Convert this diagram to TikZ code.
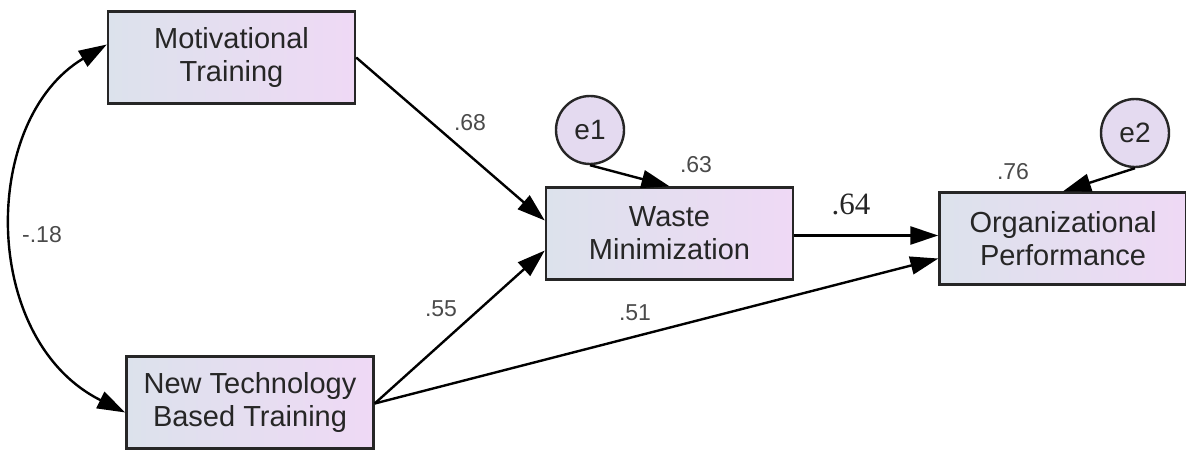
\documentclass[tikz,border=0pt]{standalone}
\usepackage{fontspec}
\setmainfont{Liberation Sans}
\newfontfamily\serifnum{Liberation Serif}
\usetikzlibrary{arrows.meta}
\definecolor{boxleft}{HTML}{DCE2EC}
\definecolor{boxright}{HTML}{EFD9F5}
\definecolor{errfill}{HTML}{E4DAF0}
\definecolor{labgray}{HTML}{4A4A4A}
\tikzset{
  varbox/.style={draw=black!85, line width=2.4pt, rectangle, left color=boxleft, right color=boxright,
    minimum width=247pt, minimum height=92pt, align=center, font=\fontsize{29}{33}\selectfont, text=black!85},
  errcirc/.style={draw=black!85, line width=2.4pt, circle, fill=errfill, minimum size=68pt, inner sep=0pt,
    font=\fontsize{28}{30}\selectfont, text=black!85},
  patharrow/.style={draw=black, line width=2.4pt, -{Triangle[length=28pt,width=18pt]}},
  dpatharrow/.style={draw=black, line width=2.4pt, {Triangle[length=28pt,width=18pt]}-{Triangle[length=28pt,width=18pt]}},
  coef/.style={font=\fontsize{23}{26}\selectfont, text=labgray, inner sep=0pt},
}
\begin{document}
\begin{tikzpicture}[x=1pt,y=-1pt]
\useasboundingbox (0,0) rectangle (1186,452);
\node[varbox] (MT) at (231.5,57.5) {Motivational\\Training};
\node[varbox] (NT) at (250,402.5) {New Technology\\Based Training};
\node[varbox] (WM) at (669.5,233.5) {Waste\\Minimization};
\node[varbox] (OP) at (1063,238.5) {Organizational\\Performance};
\node[errcirc] (E1) at (590,130) {e1};
\node[errcirc] (E2) at (1135,133) {e2};
\draw[patharrow] (MT.east) -- ([yshift=13pt]WM.west);
\draw[patharrow] ([yshift=-1pt]NT.east) -- ([yshift=-17pt]WM.west);
\draw[patharrow] ([yshift=-1pt]NT.east) -- ([yshift=-20pt]OP.west);
\draw[patharrow] ([yshift=-2pt]WM.east) -- ([yshift=-2pt]WM.east -| OP.west);
\draw[patharrow] (E1.south) -- (WM.north);
\draw[patharrow] (E2.south) -- (OP.north);
\draw[dpatharrow] ([yshift=13pt]MT.west) .. controls (-20,120) and (-20,340) .. ([yshift=-10pt]NT.west);
\node[coef] (L68) at (470,123) {.68};
\node[coef] (L63) at (696,165) {.63};
\node[coef, font=\serifnum\fontsize{31}{33}\selectfont, text=black!85] (L64) at (851,204) {.64};
\node[coef] (L55) at (441,309) {.55};
\node[coef] (L51) at (635,313) {.51};
\node[coef] (L76) at (1013,172) {.76};
\node[coef] (L18) at (42,235) {-.18};
\end{tikzpicture}
\end{document}
